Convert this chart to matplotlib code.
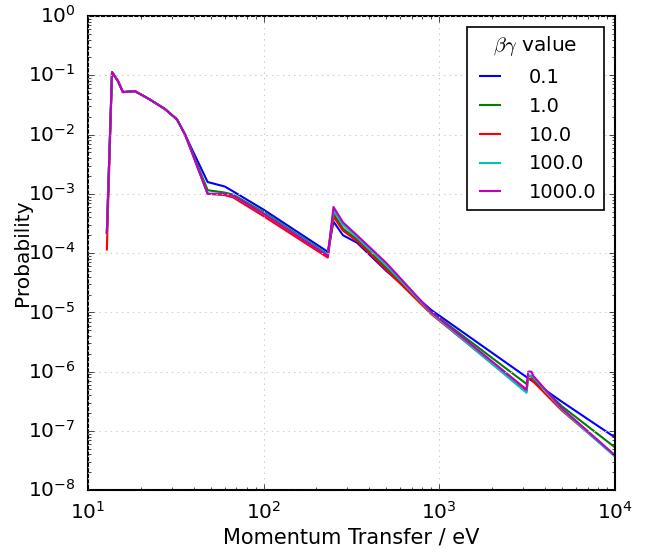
import numpy as np
import matplotlib
matplotlib.use('Agg')
import matplotlib.pyplot as plt

# momentum transfer grid (eV)
momentum = [12.8, 13.7, 14.8, 15.8, 18.5, 22.5, 27.4, 32.1, 35.7, 38.5,
            48, 60, 67, 100, 232, 250, 283, 340, 500, 900,
            3140, 3210, 3350, 3430, 5000, 10000]

# probability for each beta*gamma value
prob_0_1 = [2.2e-4, 0.113, 0.08, 0.052, 0.054, 0.039, 0.027, 0.018, 0.0100, 0.0062,
            1.58e-3, 1.33e-3, 1.1e-3, 5.4e-4, 1.05e-4, 3.4e-4, 2.0e-4, 1.5e-4, 5.0e-5, 1.1e-5,
            8.1e-7, 7.75e-7, 7.1e-7, 6.8e-7, 3.1e-7, 7.8e-8]
prob_1 = [2.2e-4, 0.113, 0.08, 0.052, 0.054, 0.039, 0.027, 0.018, 0.0100, 0.0058,
          1.15e-3, 1.05e-3, 9.7e-4, 4.9e-4, 9.5e-5, 4.6e-4, 2.6e-4, 1.7e-4, 5.6e-5, 1.02e-5,
          6.2e-7, 8.4e-7, 8.4e-7, 7.6e-7, 2.6e-7, 5.3e-8]
prob_10 = [1.15e-4, 0.113, 0.08, 0.052, 0.054, 0.039, 0.027, 0.018, 0.0100, 0.0056,
           1.0e-3, 9.5e-4, 8.7e-4, 4.2e-4, 8.4e-5, 4.1e-4, 2.4e-4, 1.6e-4, 5.2e-5, 9.4e-6,
           4.6e-7, 7.6e-7, 7.6e-7, 6.8e-7, 2.2e-7, 3.8e-8]
prob_100 = [2.2e-4, 0.113, 0.08, 0.052, 0.054, 0.039, 0.027, 0.018, 0.0100, 0.0056,
            1.0e-3, 1.0e-3, 9.2e-4, 4.7e-4, 9.2e-5, 5.3e-4, 3.0e-4, 1.85e-4, 6.2e-5, 9.8e-6,
            4.4e-7, 8.6e-7, 8.6e-7, 8.0e-7, 2.3e-7, 3.7e-8]
prob_1000 = [2.2e-4, 0.113, 0.08, 0.052, 0.054, 0.039, 0.027, 0.018, 0.0100, 0.0056,
             1.0e-3, 1.0e-3, 9.3e-4, 4.6e-4, 9.0e-5, 6.0e-4, 3.3e-4, 2.0e-4, 6.8e-5, 1.02e-5,
             5.0e-7, 1.0e-6, 1.0e-6, 8.5e-7, 2.4e-7, 3.9e-8]

labels = ['0.1', '1.0', '10.0', '100.0', '1000.0']
colors = ['b', 'g', 'r', 'c', 'm']

plt.style.use('classic')
plt.rcParams['mathtext.fontset'] = 'cm'

fig = plt.figure(figsize=(6.52, 5.52), dpi=100, facecolor='white')
ax = fig.add_axes([0.135, 0.112, 0.808, 0.859])

series = [prob_0_1, prob_1, prob_10, prob_100, prob_1000]
for y, lab, col in zip(series, labels, colors):
    ax.plot(momentum, y, color=col, lw=1.5, label=lab)

ax.set_xscale('log')
ax.set_yscale('log')
ax.set_xlim(10, 1e4)
ax.set_ylim(1e-8, 1)
ax.set_xlabel('Momentum Transfer / eV', fontsize=15, labelpad=3)
ax.set_ylabel('Probability', fontsize=14.5, labelpad=-3)
ax.tick_params(which='major', direction='in', length=4, width=0.5, labelsize=14.5)
ax.tick_params(axis='x', which='major', pad=8)
ax.tick_params(axis='y', which='major', pad=9)
ax.tick_params(which='minor', direction='in', length=2, width=0.5)
ax.grid(True, which='major', color='#cccccc', linestyle=':', linewidth=0.8)
for s in ax.spines.values():
    s.set_linewidth(1.5)

leg = ax.legend(title=r'$\beta\gamma$ value', loc='upper right', fontsize=14,
                handlelength=1.6, handletextpad=1.2, labelspacing=0.5,
                borderaxespad=0.55, fancybox=False)
leg.get_title().set_fontsize(14.5)
leg.get_frame().set_edgecolor('black')
leg.get_frame().set_linewidth(1.2)

fig.savefig('out.png', dpi=100, facecolor='white')
